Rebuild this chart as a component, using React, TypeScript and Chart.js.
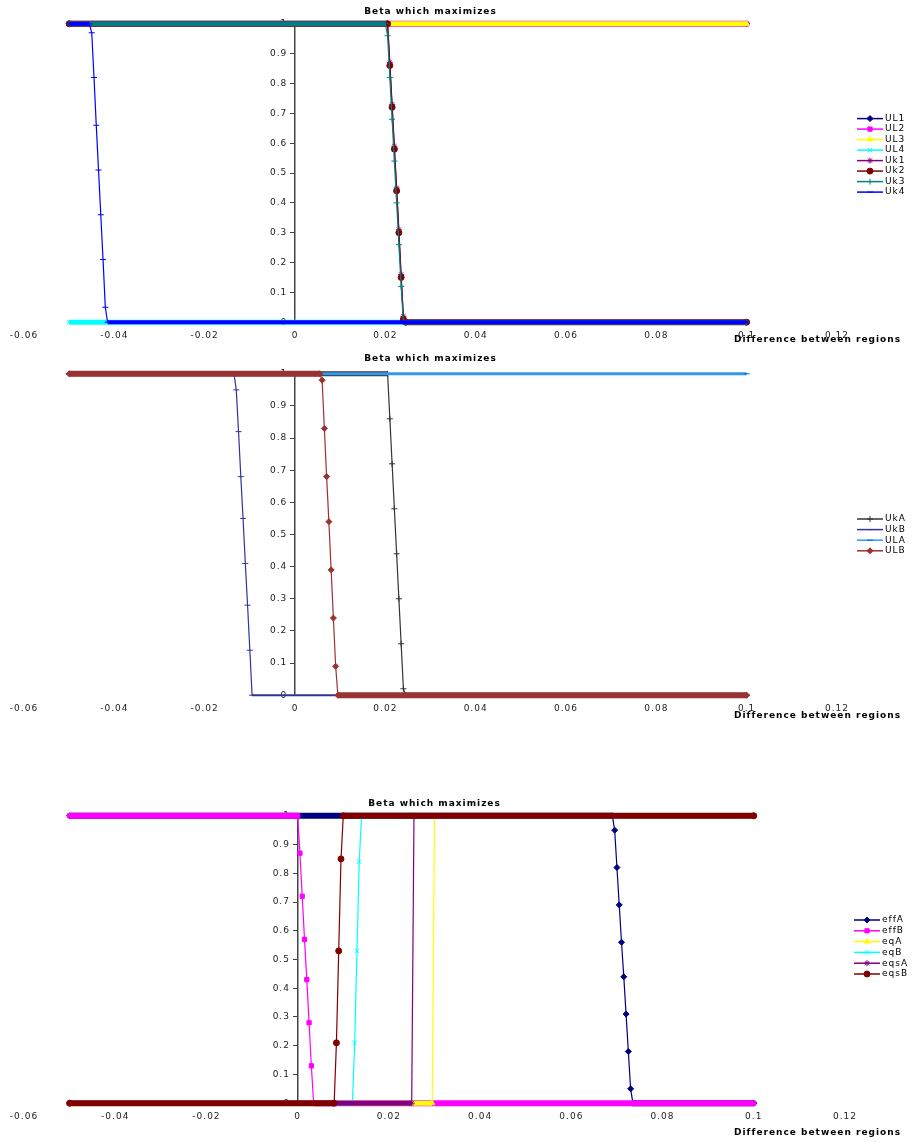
import React, { useEffect, useRef } from "react";
import { Chart, registerables } from "chart.js";
import { drawPoint } from "chart.js/helpers";

Chart.register(...registerables);

// ---------- shared text ----------
const CHART_TITLE = "Beta which maximizes";
const X_TITLE = "Difference between regions";

// ---------- axis ticks ----------
const X_MIN = -0.06;
const X_MAX = 0.12;
const X_STEP = 0.02;
const Y_MIN = 0;
const Y_MAX = 1;
const Y_STEP = 0.1;

// ---------- chart 1 data ----------
const UL1_X = [-0.05, 0.1];
const UL1_Y = [1, 1];
const UL2_X = [-0.05, 0.1];
const UL2_Y = [1, 1];
const UL3_X = [-0.05, 0.1];
const UL3_Y = [1, 1];
const UL4_X = [-0.05, 0.1];
const UL4_Y = [0, 0];
const UK1_X = [-0.05, 0.0205, 0.021, 0.0215, 0.022, 0.0225, 0.023, 0.0235, 0.024, 0.0245, 0.1];
const UK1_Y = [1, 1, 0.87, 0.73, 0.59, 0.45, 0.31, 0.16, 0.02, 0, 0];
const UK2_X = [-0.05, 0.0205, 0.021, 0.0215, 0.022, 0.0225, 0.023, 0.0235, 0.024, 0.0245, 0.1];
const UK2_Y = [1, 1, 0.86, 0.72, 0.58, 0.44, 0.3, 0.15, 0.01, 0, 0];
const UK3_X = [-0.05, 0.02, 0.0205, 0.021, 0.0215, 0.022, 0.0225, 0.023, 0.0235, 0.024, 0.1];
const UK3_Y = [1, 1, 0.96, 0.82, 0.68, 0.54, 0.4, 0.26, 0.12, 0, 0];
const UK4_X = [-0.05, -0.0455, -0.045, -0.0445, -0.044, -0.0435, -0.043, -0.0425, -0.042, -0.0415, 0.1];
const UK4_Y = [1, 1, 0.97, 0.82, 0.66, 0.51, 0.36, 0.21, 0.05, 0, 0];

// ---------- chart 2 data ----------
const UKA_X = [-0.05, 0.0205, 0.021, 0.0215, 0.022, 0.0225, 0.023, 0.0235, 0.024, 0.0245, 0.1];
const UKA_Y = [1, 1, 0.86, 0.72, 0.58, 0.44, 0.3, 0.16, 0.02, 0, 0];
const UKB_X = [-0.05, -0.0135, -0.013, -0.0125, -0.012, -0.0115, -0.011, -0.0105, -0.01, -0.0095, 0.1];
const UKB_Y = [1, 1, 0.95, 0.82, 0.68, 0.55, 0.41, 0.28, 0.14, 0, 0];
const ULA_X = [-0.05, 0.1];
const ULA_Y = [1, 1];
const ULB_X = [-0.05, 0.0055, 0.006, 0.0065, 0.007, 0.0075, 0.008, 0.0085, 0.009, 0.0095, 0.1];
const ULB_Y = [1, 1, 0.98, 0.83, 0.68, 0.54, 0.39, 0.24, 0.09, 0, 0];

// ---------- chart 3 data ----------
const EFFA_X = [-0.05, 0.069, 0.0695, 0.07, 0.0705, 0.071, 0.0715, 0.072, 0.0725, 0.073, 0.0735, 0.1];
const EFFA_Y = [1, 1, 0.95, 0.82, 0.69, 0.56, 0.44, 0.31, 0.18, 0.05, 0, 0];
const EFFB_X = [-0.05, 0, 0.0005, 0.001, 0.0015, 0.002, 0.0025, 0.003, 0.0035, 0.1];
const EFFB_Y = [1, 1, 0.87, 0.72, 0.57, 0.43, 0.28, 0.13, 0, 0];
const EQA_X = [-0.05, 0.0295, 0.03, 0.1];
const EQA_Y = [0, 0, 1, 1];
const EQB_X = [-0.05, 0.012, 0.0125, 0.013, 0.0135, 0.014, 0.1];
const EQB_Y = [0, 0, 0.21, 0.53, 0.84, 1, 1];
const EQSA_X = [-0.05, 0.025, 0.0255, 0.1];
const EQSA_Y = [0, 0, 1, 1];
const EQSB_X = [-0.05, 0.008, 0.0085, 0.009, 0.0095, 0.01, 0.1];
const EQSB_Y = [0, 0, 0.21, 0.53, 0.85, 1, 1];

// ---------- styles ----------
const FONT = '"DejaVu Sans", "Liberation Sans", sans-serif';
const LINE_W = 1.2;

type Series = {
  label: string;
  xs: number[];
  ys: number[];
  color: string;
  markerFill: string;
  markerStroke: string;
  pointStyle: string;
  radius: number;
  band: number;
};

const CHART1: Series[] = [
  { label: "UL1", xs: UL1_X, ys: UL1_Y, color: "#000080", markerFill: "#000080", markerStroke: "#000080", pointStyle: "rectRot", radius: 3, band: 5 },
  { label: "UL2", xs: UL2_X, ys: UL2_Y, color: "#ff00ff", markerFill: "#ff00ff", markerStroke: "#ff00ff", pointStyle: "rect", radius: 3, band: 6 },
  { label: "UL3", xs: UL3_X, ys: UL3_Y, color: "#ffff00", markerFill: "#ffff00", markerStroke: "#ffff00", pointStyle: "triangle", radius: 3, band: 5 },
  { label: "UL4", xs: UL4_X, ys: UL4_Y, color: "#00ffff", markerFill: "#00ffff", markerStroke: "#00ffff", pointStyle: "crossRot", radius: 3, band: 5 },
  { label: "Uk1", xs: UK1_X, ys: UK1_Y, color: "#800080", markerFill: "#800080", markerStroke: "#800080", pointStyle: "star", radius: 3, band: 5 },
  { label: "Uk2", xs: UK2_X, ys: UK2_Y, color: "#800000", markerFill: "#800000", markerStroke: "#800000", pointStyle: "circle", radius: 3, band: 6 },
  { label: "Uk3", xs: UK3_X, ys: UK3_Y, color: "#008080", markerFill: "#008080", markerStroke: "#008080", pointStyle: "cross", radius: 3, band: 5 },
  { label: "Uk4", xs: UK4_X, ys: UK4_Y, color: "#0000ff", markerFill: "#0000ff", markerStroke: "#0000ff", pointStyle: "line", radius: 3, band: 4 },
];

const CHART2: Series[] = [
  { label: "UkA", xs: UKA_X, ys: UKA_Y, color: "#333333", markerFill: "#333333", markerStroke: "#333333", pointStyle: "cross", radius: 3, band: 5 },
  { label: "UkB", xs: UKB_X, ys: UKB_Y, color: "#333399", markerFill: "#333399", markerStroke: "#333399", pointStyle: "line", radius: 3, band: 2 },
  { label: "ULA", xs: ULA_X, ys: ULA_Y, color: "#3399ee", markerFill: "#0066cc", markerStroke: "#0066cc", pointStyle: "line", radius: 3, band: 3 },
  { label: "ULB", xs: ULB_X, ys: ULB_Y, color: "#993333", markerFill: "#993333", markerStroke: "#993333", pointStyle: "rectRot", radius: 3, band: 6 },
];

const CHART3: Series[] = [
  { label: "effA", xs: EFFA_X, ys: EFFA_Y, color: "#000080", markerFill: "#000080", markerStroke: "#000080", pointStyle: "rectRot", radius: 3, band: 6 },
  { label: "effB", xs: EFFB_X, ys: EFFB_Y, color: "#ff00ff", markerFill: "#ff00ff", markerStroke: "#ff00ff", pointStyle: "rect", radius: 3, band: 6 },
  { label: "eqA", xs: EQA_X, ys: EQA_Y, color: "#ffff00", markerFill: "#ffff00", markerStroke: "#ffff00", pointStyle: "triangle", radius: 3, band: 5 },
  { label: "eqB", xs: EQB_X, ys: EQB_Y, color: "#00ffff", markerFill: "#00ffff", markerStroke: "#00ffff", pointStyle: "crossRot", radius: 3, band: 5 },
  { label: "eqsA", xs: EQSA_X, ys: EQSA_Y, color: "#800080", markerFill: "#800080", markerStroke: "#800080", pointStyle: "star", radius: 3, band: 5 },
  { label: "eqsB", xs: EQSB_X, ys: EQSB_Y, color: "#800000", markerFill: "#800000", markerStroke: "#800000", pointStyle: "circle", radius: 3, band: 6 },
];

type Layout = {
  top: number;
  height: number;
  padRight: number;
  padBottom: number;
  titleTop: number;
  titleBottom: number;
  xTitleDy: number;
  legGap: number;
  legY: number;
  legDy: number;
};

const spacingPlugin = {
  id: "spacing",
  beforeUpdate(chart: any) {
    chart.ctx.letterSpacing = "1px";
  },
  beforeDraw(chart: any) {
    chart.ctx.letterSpacing = "1px";
  },
};

function overlayPlugin(series: Series[], lay: Layout) {
  return {
    id: "overlay",
    afterDraw(chart: any) {
      const ctx = chart.ctx as CanvasRenderingContext2D;
      const area = chart.chartArea;
      ctx.save();
      (ctx as any).letterSpacing = "1px";
      ctx.font = `bold 9px ${FONT}`;
      ctx.fillStyle = "#000";
      ctx.textAlign = "right";
      ctx.textBaseline = "middle";
      ctx.fillText(X_TITLE, chart.width - 14, area.bottom + lay.xTitleDy);

      const lx = area.right + lay.legGap;
      const len = 26;
      series.forEach((s, i) => {
        const y = lay.legY + i * lay.legDy;
        ctx.strokeStyle = s.color;
        ctx.lineWidth = 1.5;
        ctx.beginPath();
        ctx.moveTo(lx, y);
        ctx.lineTo(lx + len, y);
        ctx.stroke();
        ctx.fillStyle = s.markerFill;
        ctx.strokeStyle = s.markerStroke;
        ctx.lineWidth = 1;
        drawPoint(ctx, { pointStyle: s.pointStyle as any, radius: s.radius, rotation: 0, borderWidth: 1 } as any, lx + len / 2, y);
        ctx.fillStyle = "#000";
        ctx.font = `9px ${FONT}`;
        ctx.textAlign = "left";
        ctx.textBaseline = "middle";
        ctx.fillText(s.label, lx + len + 2, y);
      });
      ctx.restore();
    },
  };
}

function buildConfig(series: Series[], lay: Layout): any {
  const n = series.length;
  return {
    type: "line",
    data: {
      datasets: series.map((s, i) => ({
        label: s.label,
        data: s.xs.map((x, j) => ({ x, y: s.ys[j] })),
        borderColor: s.color,
        backgroundColor: s.color,
        borderWidth: LINE_W,
        pointStyle: s.pointStyle,
        pointRadius: s.radius,
        pointBorderWidth: 1,
        pointBackgroundColor: s.markerFill,
        pointBorderColor: s.markerStroke,
        tension: 0,
        fill: false,
        clip: false,
        order: n - i,
        segment: {
          borderWidth: (c: any) => (c.p0.parsed.y === c.p1.parsed.y ? s.band : LINE_W),
        },
      })),
    },
    options: {
      animation: false,
      responsive: false,
      maintainAspectRatio: false,
      events: [],
      layout: { padding: { left: 24, right: lay.padRight, top: 0, bottom: lay.padBottom } },
      scales: {
        x: {
          type: "linear",
          min: X_MIN,
          max: X_MAX,
          grid: { display: false, drawTicks: false },
          border: { display: false },
          ticks: {
            stepSize: X_STEP,
            color: "#222",
            font: { family: FONT, size: 9 },
            padding: 8,
            maxRotation: 0,
            callback: (v: number) => String(Number(v.toFixed(2))),
          },
        },
        y: {
          type: "linear",
          min: Y_MIN,
          max: Y_MAX,
          position: { x: 0 },
          grid: { display: true, drawOnChartArea: false, drawTicks: true, tickLength: 4, color: "#444", lineWidth: 1 },
          border: { display: true, color: "#444", width: 1.5 },
          ticks: {
            stepSize: Y_STEP,
            color: "#222",
            font: { family: FONT, size: 9 },
            padding: 9,
            // trailing spaces keep the right-aligned labels clear of the axis line
            callback: (v: number) => String(Number(v.toFixed(1))) + "  ",
          },
        },
      },
      plugins: {
        legend: { display: false },
        tooltip: { enabled: false },
        title: {
          display: true,
          text: CHART_TITLE,
          fullSize: false,
          color: "#000",
          font: { family: FONT, size: 9, weight: "bold" },
          padding: { top: lay.titleTop, bottom: lay.titleBottom },
        },
      },
    },
    plugins: [spacingPlugin, overlayPlugin(series, lay)],
  };
}

const LAYOUT1: Layout = { top: 0, height: 350, padRight: 78, padBottom: 1, titleTop: 6, titleBottom: 7, xTitleDy: 17, legGap: 20, legY: 118.6, legDy: 10.5 };
const LAYOUT2: Layout = { top: 345, height: 380, padRight: 78, padBottom: 3, titleTop: 8, titleBottom: 10, xTitleDy: 20, legGap: 20, legY: 519 - 345, legDy: 10.6 };
const LAYOUT3: Layout = { top: 790, height: 352, padRight: 70, padBottom: 12, titleTop: 8, titleBottom: 7, xTitleDy: 29, legGap: 9, legY: 920 - 790, legDy: 10.8 };

function ChartBox({ series, lay }: { series: Series[]; lay: Layout }) {
  const ref = useRef<HTMLCanvasElement>(null);
  useEffect(() => {
    if (!ref.current) return;
    const chart = new Chart(ref.current, buildConfig(series, lay));
    return () => chart.destroy();
  }, []);
  return (
    <div style={{ position: "absolute", left: 0, top: lay.top, width: 915, height: lay.height }}>
      <canvas ref={ref} width={915} height={lay.height} style={{ display: "block", width: 915, height: lay.height }} />
    </div>
  );
}

export default function App() {
  return (
    <div style={{ position: "absolute", left: 0, top: 0, width: 915, height: 1142, background: "#fff" }}>
      <ChartBox series={CHART1} lay={LAYOUT1} />
      <ChartBox series={CHART2} lay={LAYOUT2} />
      <ChartBox series={CHART3} lay={LAYOUT3} />
    </div>
  );
}
